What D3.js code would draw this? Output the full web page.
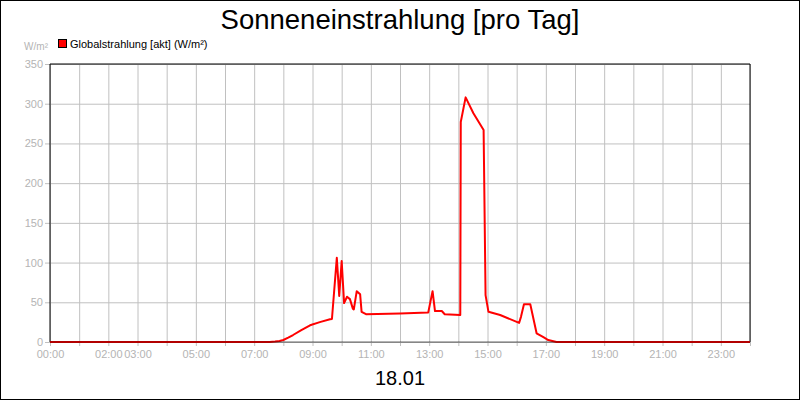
<!DOCTYPE html>
<html>
<head>
<meta charset="utf-8">
<script src="https://cdn.jsdelivr.net/npm/d3@7"></script>
<style>
body { margin: 0; background: #fff; }
svg { display: block; font-family: "Liberation Sans", Arial, sans-serif; }
</style>
</head>
<body>
<svg width="800" height="400"></svg>
<script>
// times of day and global radiation (W/m²)
var times = ["00:00","07:32","07:43","07:52","08:00","08:10","08:20","08:37","08:55","09:15","09:36","09:40","09:50","09:55","10:00","10:05","10:11","10:17","10:23","10:25","10:31","10:38","10:41","10:50","12:00","12:58","13:07","13:12","13:26","13:32","14:04","14:05","14:15","14:31","14:52","14:56","15:02","15:26","16:05","16:09","16:15","16:28","16:41","16:55","17:05","17:22","24:00"]
var values = [0,0,0.5,1.3,2.5,5.5,8.8,15,21,25,28.6,29,106,58,102,49,57,54,42,41,64,60,38,35,36,37,64,39,39,35,34,277,308,288,267,59,38,34,24,32,47.5,47.5,11,6,2.5,0,0]
var tickHours = [0,2,3,5,7,9,11,13,15,17,19,21,23]
var tickLabels = ["00:00","02:00","03:00","05:00","07:00","09:00","11:00","13:00","15:00","17:00","19:00","21:00","23:00"]
var yTicks = [0,50,100,150,200,250,300,350]

var width = 800, height = 400
var plotLeft = 50, plotRight = 750, plotTop = 64, plotBottom = 342

function toHour(s){
	var p = s.split(":")
	return +p[0] + p[1] / 60
}
var data = times.map(function(t,i){ return {h: toHour(t), v: values[i]} })

const svg = d3.select("svg")

svg.append("rect")
	.attr("x", 0.5).attr("y", 0.5)
	.attr("width", width - 1).attr("height", height - 1)
	.attr("fill", "#fff").attr("stroke", "#000")

var x = d3.scaleLinear().domain([0, 24]).range([plotLeft, plotRight])
var y = d3.scaleLinear().domain([0, 350]).range([plotBottom, plotTop])

// grid
svg.append("g")
	.attr("transform", `translate(0,${plotBottom})`)
	.call(d3.axisBottom(x).tickValues(d3.range(0, 25)).tickSize(-(plotBottom - plotTop) - 4).tickFormat(""))
	.call(g => g.select(".domain").remove())
	.call(g => g.selectAll("line").attr("stroke", "#c0c0c0").attr("transform", "translate(0,4)"))

svg.append("g")
	.attr("transform", `translate(${plotLeft},0)`)
	.call(d3.axisLeft(y).tickValues(yTicks).tickSize(-(plotRight - plotLeft)).tickFormat(""))
	.call(g => g.select(".domain").remove())
	.call(g => g.selectAll("line").attr("stroke", "#c0c0c0"))

// y axis labels
svg.append("g")
	.attr("transform", `translate(${plotLeft},0)`)
	.call(d3.axisLeft(y).tickValues(yTicks).tickSize(5).tickPadding(2))
	.call(g => g.select(".domain").remove())
	.call(g => g.selectAll("line").attr("stroke", "#c0c0c0"))
	.call(g => g.selectAll("text").attr("fill", "#b4b4b4").style("font-size", "11px").style("font-family", "Liberation Sans, Arial, sans-serif"))

// x axis labels
svg.append("g")
	.attr("transform", `translate(0,${plotBottom})`)
	.call(d3.axisBottom(x).tickValues(tickHours).tickSize(0).tickPadding(8)
		.tickFormat((d,i) => tickLabels[i]))
	.call(g => g.select(".domain").remove())
	.call(g => g.selectAll("text").attr("fill", "#b4b4b4").style("font-size", "11px").style("font-family", "Liberation Sans, Arial, sans-serif"))

// frame
svg.append("path")
	.attr("d", `M${plotLeft},${plotTop}H${plotRight}V${plotBottom}`)
	.attr("fill", "none").attr("stroke", "#000")
svg.append("line")
	.attr("x1", plotLeft).attr("x2", plotLeft).attr("y1", plotTop).attr("y2", plotBottom)
	.attr("stroke", "#000")

var line = d3.line()
	.x(d => x(d.h))
	.y(d => y(d.v))

svg.append("path")
	.datum(data)
	.attr("fill", "none")
	.attr("stroke", "#ff0000")
	.attr("stroke-width", 2)
	.attr("stroke-linejoin", "round")
	.attr("d", line)

svg.append("line")
	.attr("x1", plotLeft).attr("x2", plotRight).attr("y1", plotBottom).attr("y2", plotBottom)
	.attr("stroke", "#000").attr("stroke-opacity", 0.6)

// texts
svg.append("text")
	.attr("x", 400).attr("y", 29)
	.attr("text-anchor", "middle")
	.style("font-size", "27.5px")
	.text("Sonneneinstrahlung [pro Tag]")

svg.append("rect")
	.attr("x", 58.5).attr("y", 39.5).attr("width", 8).attr("height", 8)
	.attr("fill", "#ff0000").attr("stroke", "#000")
svg.append("text")
	.attr("x", 70).attr("y", 48)
	.style("font-size", "11px")
	.text("Globalstrahlung [akt] (W/m²)")

svg.append("text")
	.attr("x", 48).attr("y", 50)
	.attr("text-anchor", "end")
	.attr("fill", "#b4b4b4")
	.style("font-size", "10px")
	.text("W/m²")

svg.append("text")
	.attr("x", 400).attr("y", 385)
	.attr("text-anchor", "middle")
	.style("font-size", "20px")
	.text("18.01")
</script>
</body>
</html>
